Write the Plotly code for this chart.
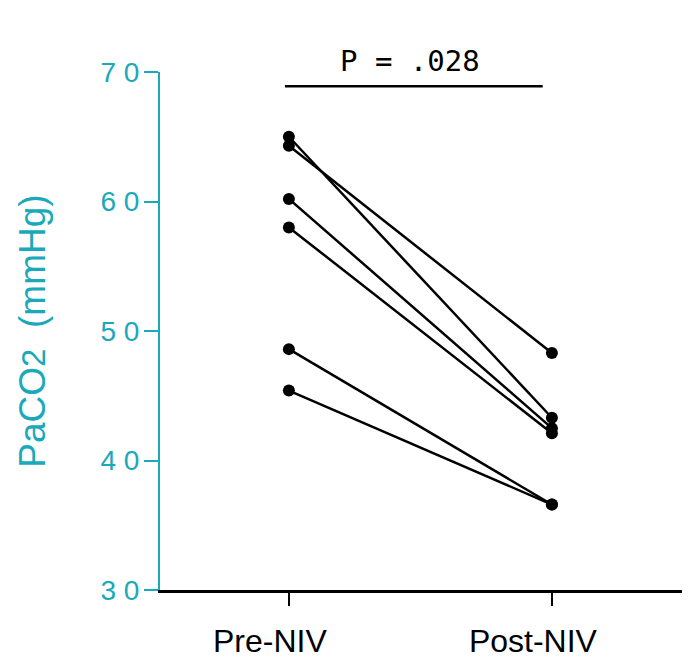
import plotly.graph_objects as go

categories = ["Pre-NIV", "Post-NIV"]
pre_values = [65.0, 64.3, 60.2, 58.0, 48.6, 45.4]
post_values = [43.3, 48.3, 42.5, 42.1, 36.6, 36.6]
y_tick_vals = [30, 40, 50, 60, 70]
y_tick_text = ["3 0", "4 0", "5 0", "6 0", "7 0"]
p_label = "P = .028"
p_bar_level = 68.9

teal = "#1aa9ba"

fig = go.Figure()
for a, b in zip(pre_values, post_values):
    fig.add_trace(go.Scatter(
        x=categories, y=[a, b], mode="lines+markers",
        line=dict(color="black", width=2.5),
        marker=dict(color="black", size=12),
        showlegend=False, cliponaxis=False,
    ))

fig.add_shape(type="line", xref="x", yref="y",
              x0=-0.015, x1=0.965, y0=p_bar_level, y1=p_bar_level,
              line=dict(color="black", width=2.5))
fig.add_annotation(x=0.46, y=1.021, xref="x", yref="paper", text=p_label,
                   showarrow=False, yanchor="middle",
                   font=dict(family="DejaVu Sans Mono", size=29, color="black"))

fig.update_layout(
    width=690, height=667,
    margin=dict(l=152, r=13, t=64, b=85, autoexpand=False),
    paper_bgcolor="white", plot_bgcolor="white",
    font=dict(family="Liberation Sans, Arial, sans-serif"),
)
fig.update_xaxes(
    type="category", range=[-0.49, 1.506], automargin=False,
    showgrid=False, zeroline=False,
    showline=True, linecolor="black", linewidth=2.5,
    ticks="outside", ticklen=13, tickcolor="black", tickwidth=2,
    tickfont=dict(size=32, color="black"),
    ticklabelshift=-19, ticklabelstandoff=8,
)
fig.update_yaxes(
    range=[30, 70], automargin=False, showgrid=False, zeroline=False,
    showline=True, linecolor=teal, linewidth=2,
    ticks="outside", ticklen=14, tickcolor=teal, tickwidth=2,
    tickvals=y_tick_vals, ticktext=y_tick_text,
    tickfont=dict(size=28, color=teal), ticklabelstandoff=-1,
    title=dict(text="PaCO<span style='font-size:33px'>2</span>  (mmHg)",
               font=dict(size=37, color=teal), standoff=44),
)

fig.write_html("out.html")
